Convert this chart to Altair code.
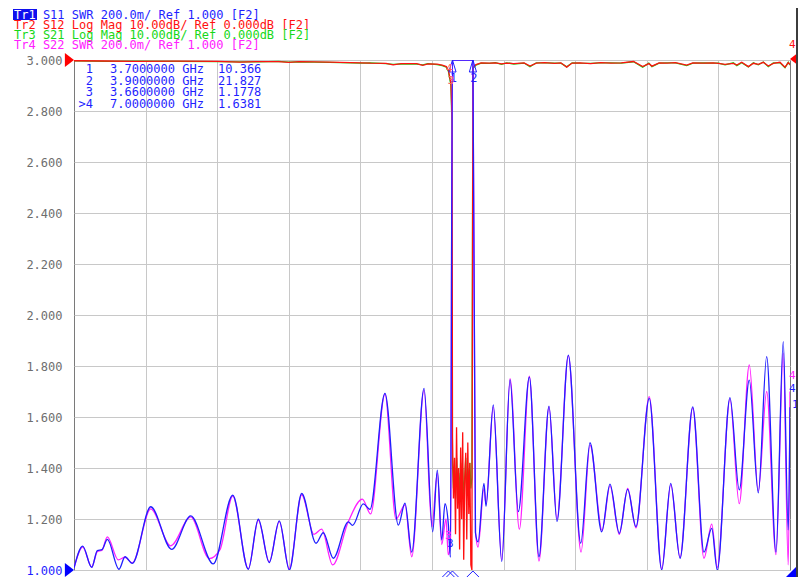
import altair as alt
import pandas as pd

MONO = "DejaVu Sans Mono"
BLUE = "#1f1fff"
RED = "#ff1010"
GREEN = "#18d818"
MAG = "#ff20ff"
GRID = "#c8c8c8"

# ---------------- data (frequency in GHz) ----------------
# Tr1 S11 SWR
s11 = [
    (0.000, 1.008), (0.085, 1.094), (0.173, 1.010), (0.228, 1.076), (0.274, 1.080),
    (0.326, 1.120), (0.440, 1.003), (0.499, 1.052), (0.570, 1.026), (0.750, 1.248),
    (0.955, 1.081), (1.141, 1.212), (1.362, 1.024), (1.552, 1.294), (1.704, 1.003),
    (1.802, 1.199), (1.909, 1.029), (2.007, 1.193), (2.105, 1.000), (2.226, 1.300),
    (2.366, 1.105), (2.437, 1.146), (2.535, 1.046), (2.682, 1.189), (2.724, 1.175),
    (2.828, 1.259), (2.894, 1.238), (3.040, 1.693), (3.171, 1.176), (3.236, 1.262),
    (3.302, 1.070), (3.422, 1.712), (3.507, 1.150), (3.552, 1.392), (3.595, 1.118),
    (3.627, 1.260), (3.660, 1.178), (3.680, 1.050), (3.700, 10.366), (3.750, 35.0),
    (3.800, 50.0), (3.850, 35.0), (3.900, 21.827), (3.925, 1.145), (3.950, 1.110),
    (4.008, 1.340), (4.028, 1.250), (4.099, 1.647), (4.182, 1.033), (4.263, 1.745),
    (4.344, 1.229), (4.452, 1.756), (4.546, 1.052), (4.644, 1.643), (4.722, 1.190),
    (4.833, 1.843), (4.954, 1.105), (5.045, 1.499), (5.159, 1.150), (5.240, 1.337),
    (5.331, 1.144), (5.413, 1.316), (5.494, 1.170), (5.624, 1.673), (5.746, 1.000),
    (5.834, 1.340), (5.925, 1.046), (6.049, 1.640), (6.159, 1.070), (6.235, 1.163),
    (6.289, 1.000), (6.413, 1.676), (6.504, 1.314), (6.602, 1.745), (6.690, 1.303),
    (6.772, 1.837), (6.863, 1.070), (6.934, 1.895), (6.983, 1.157), (7.000, 1.638),
]

# Tr4 S22 SWR
s22 = [
    (0.000, 1.008), (0.085, 1.090), (0.173, 1.012), (0.228, 1.072), (0.274, 1.078),
    (0.326, 1.130), (0.433, 1.040), (0.499, 1.050), (0.570, 1.028), (0.750, 1.240),
    (0.945, 1.095), (1.141, 1.208), (1.323, 1.045), (1.427, 1.080), (1.552, 1.290),
    (1.704, 1.005), (1.802, 1.195), (1.909, 1.032), (2.007, 1.190), (2.105, 1.005),
    (2.226, 1.295), (2.346, 1.140), (2.421, 1.160), (2.529, 1.020), (2.682, 1.190),
    (2.819, 1.278), (2.900, 1.220), (3.040, 1.690), (3.148, 1.200), (3.236, 1.255),
    (3.302, 1.052), (3.422, 1.705), (3.499, 1.170), (3.552, 1.380), (3.595, 1.100),
    (3.637, 1.200), (3.659, 1.060), (3.680, 1.100), (3.700, 8.5), (3.750, 30.0),
    (3.800, 40.0), (3.850, 30.0), (3.900, 18.0), (3.925, 1.150), (3.950, 1.090),
    (4.008, 1.320), (4.028, 1.260), (4.099, 1.640), (4.182, 1.040), (4.263, 1.750),
    (4.354, 1.160), (4.452, 1.760), (4.546, 1.035), (4.644, 1.640), (4.722, 1.200),
    (4.833, 1.840), (4.957, 1.070), (5.045, 1.490), (5.163, 1.155), (5.240, 1.330),
    (5.331, 1.140), (5.413, 1.320), (5.494, 1.165), (5.624, 1.680), (5.746, 1.005),
    (5.834, 1.335), (5.925, 1.050), (6.049, 1.635), (6.159, 1.046), (6.235, 1.180),
    (6.289, 1.010), (6.413, 1.670), (6.504, 1.260), (6.602, 1.804), (6.690, 1.310),
    (6.772, 1.700), (6.863, 1.060), (6.934, 1.850), (6.983, 1.020), (7.000, 1.700),
]

# Tr2 S12 Log Mag (dB)
s12_low = [
    (0.00, -0.15), (0.30, -0.20), (0.60, -0.25), (1.00, -0.22), (1.40, -0.28),
    (1.62, -0.40), (1.80, -0.30), (2.00, -0.30), (2.10, -0.45), (2.20, -0.32),
    (2.50, -0.40), (2.80, -0.55), (2.90, -0.62), (3.05, -0.65), (3.12, -0.95),
    (3.20, -0.70), (3.35, -0.70), (3.41, -1.05), (3.46, -0.75), (3.55, -0.80),
    (3.60, -1.00), (3.64, -1.30), (3.66, -2.00), (3.685, -4.5), (3.697, -12.0),
]
s12_stop_db = [
    -74, -86, -78, -93, -72, -88, -80, -96, -76, -90,
    -73, -98, -82, -77, -94, -75, -89, -79, -99, -112,
]
s12_high = [
    (3.900, -1.5), (3.930, -0.9), (3.980, -0.55), (4.060, -0.60), (4.120, -0.55),
    (4.180, -0.75), (4.230, -0.60), (4.300, -0.70), (4.400, -0.55), (4.458, -1.18),
    (4.520, -0.60), (4.600, -0.50), (4.700, -0.65), (4.760, -0.55), (4.817, -1.40),
    (4.870, -0.60), (4.950, -0.55), (5.050, -0.70), (5.150, -0.50), (5.250, -0.60),
    (5.350, -0.55), (5.470, -0.30), (5.560, -1.30), (5.620, -0.70), (5.650, -1.20),
    (5.720, -0.55), (5.800, -0.60), (5.880, -0.50), (5.990, -1.00), (6.050, -0.55),
    (6.150, -0.60), (6.250, -0.55), (6.300, -0.65), (6.365, -0.85), (6.446, -0.65),
    (6.480, -1.00), (6.528, -0.45), (6.593, -1.30), (6.642, -0.65), (6.690, -0.85),
    (6.739, -0.45), (6.788, -1.18), (6.837, -0.65), (6.902, -0.45), (6.951, -1.43),
    (6.983, -0.50), (7.000, -0.90),
]

# Tr3 S21 Log Mag (dB)
s21_low = [
    (0.00, -0.18), (0.30, -0.25), (0.60, -0.22), (1.00, -0.28), (1.40, -0.30),
    (1.62, -0.35), (1.80, -0.38), (2.00, -0.28), (2.10, -0.40), (2.20, -0.36),
    (2.50, -0.45), (2.80, -0.60), (2.90, -0.58), (3.05, -0.72), (3.12, -0.85),
    (3.20, -0.75), (3.35, -0.80), (3.41, -0.95), (3.46, -0.70), (3.55, -0.90),
    (3.60, -1.10), (3.64, -1.40), (3.66, -2.20), (3.685, -5.0), (3.697, -14.0),
]
s21_stop_db = [
    -79, -84, -80, -86, -78, -83, -81, -85, -79, -84,
    -80, -86, -82, -78, -85, -80, -83, -79, -84, -82,
]
s21_high = [
    (3.900, -1.7), (3.930, -1.0), (3.980, -0.60), (4.060, -0.68), (4.120, -0.50),
    (4.180, -0.85), (4.230, -0.55), (4.300, -0.78), (4.400, -0.60), (4.458, -1.30),
    (4.520, -0.55), (4.600, -0.58), (4.700, -0.60), (4.760, -0.62), (4.817, -1.35),
    (4.870, -0.55), (4.950, -0.62), (5.050, -0.65), (5.150, -0.58), (5.250, -0.55),
    (5.350, -0.62), (5.470, -0.35), (5.560, -1.40), (5.620, -0.62), (5.650, -1.30),
    (5.720, -0.60), (5.800, -0.55), (5.880, -0.58), (5.990, -1.10), (6.050, -0.60),
    (6.150, -0.55), (6.250, -0.62), (6.300, -0.60), (6.365, -0.95), (6.446, -0.55),
    (6.480, -1.10), (6.528, -0.55), (6.593, -1.35), (6.642, -0.55), (6.690, -0.95),
    (6.739, -0.40), (6.788, -1.30), (6.837, -0.55), (6.902, -0.55), (6.951, -1.50),
    (6.983, -0.45), (7.000, -1.00),
]

stop_start = 3.70
stop_step = 0.01

x_grid = [0.7, 1.4, 2.1, 2.8, 3.5, 4.2, 4.9, 5.6, 6.3]
y_ticks = [1.0, 1.2, 1.4, 1.6, 1.8, 2.0, 2.2, 2.4, 2.6, 2.8, 3.0]

marker_ids = ["1", "2", "3", ">4"]
marker_freq = [3.70, 3.90, 3.66, 7.00]
marker_freq_txt = ["3.7000000 GHz", "3.9000000 GHz", "3.6600000 GHz", "7.0000000 GHz"]
marker_val_txt = ["10.366", "21.827", "1.1778", "1.6381"]

header_lines = [
    ("Tr1 S11 SWR 200.0m/ Ref 1.000 [F2]", BLUE),
    ("Tr2 S12 Log Mag 10.00dB/ Ref 0.000dB [F2]", RED),
    ("Tr3 S21 Log Mag 10.00dB/ Ref 0.000dB [F2]", GREEN),
    ("Tr4 S22 SWR 200.0m/ Ref 1.000 [F2]", MAG),
]


def db_frame(low, stop, high):
    stop_pts = [(round(stop_start + stop_step * i, 3), d) for i, d in enumerate(stop)]
    return pd.DataFrame(low + stop_pts + high, columns=["f", "db"])


df11 = pd.DataFrame(s11, columns=["f", "v"])
df22 = pd.DataFrame(s22, columns=["f", "v"])
df12 = db_frame(s12_low, s12_stop_db, s12_high)
df21 = db_frame(s21_low, s21_stop_db, s21_high)

xs = alt.Scale(domain=[0, 7], nice=False, zero=False)
ys = alt.Scale(domain=[1, 3], nice=False, zero=False, clamp=True)
AXX = alt.Axis(values=x_grid, grid=True, gridColor=GRID, gridWidth=1, labels=False, ticks=False,
               domain=False, title=None)
AXY = alt.Axis(values=y_ticks, format=".3f", grid=True, gridColor=GRID, gridWidth=1, ticks=False,
               domain=False, labelPadding=12, labelFont=MONO, labelFontSize=12,
               labelColor={"expr": "datum.value === 1 ? '#1f1fff' : '#6e6e6e'"}, title=None)
X = alt.X("f:Q", scale=xs, axis=AXX)
Y = alt.Y("v:Q", scale=ys, axis=AXY)

one = pd.DataFrame({"k": [0]})


def trace(df, color, calc=None, interp="monotone"):
    ch = alt.Chart(df)
    if calc:
        ch = ch.transform_calculate(v=calc)
    return ch.mark_line(color=color, strokeWidth=1.3, interpolate=interp, clip=True).encode(x=X, y=Y)


def txt(s, x, y, color, size=12, align="left"):
    return alt.Chart(one).mark_text(text=s, font=MONO, fontSize=size, color=color, align=align,
                                    baseline="middle").encode(x=alt.value(x), y=alt.value(y))


def sym(path, x, y, size, color, filled=True):
    return alt.Chart(one).mark_point(shape=path, size=size, filled=filled, color=color, opacity=1,
                                     strokeWidth=1).encode(x=alt.value(x), y=alt.value(y))


layers = [trace(df21, GREEN, "3 + datum.db / 50", "linear"),
          trace(df12, RED, "3 + datum.db / 50", "linear"),
          trace(df22, MAG),
          trace(df11, BLUE)]

# header
hy = [-45.5, -35.2, -25, -14.8]
for (s, c), y in zip(header_lines, hy):
    layers.append(txt(s, -60, y, c))
layers.append(alt.Chart(one).mark_rect(color="#1010ee").encode(
    x=alt.value(-61), x2=alt.value(-37), y=alt.value(-51), y2=alt.value(-40)))
layers.append(txt("Tr1", -60, hy[0], "white"))

# marker table
ty = [9, 20.5, 32, 43.5]
for mid, ft, vt, y in zip(marker_ids, marker_freq_txt, marker_val_txt, ty):
    layers.append(txt(mid, 19, y, BLUE, align="right"))
    layers.append(txt(ft, 36, y, BLUE))
    layers.append(txt(vt, 144, y, BLUE))

# marker symbols on the traces (top edge, off-scale)
mk = pd.DataFrame({"f": marker_freq, "id": marker_ids})
tri_up_tall = "M0,-1L0.6,1L-0.6,1Z"
tri_up_wide = "M0,-0.5L1,0.5L-1,0.5Z"
layers.append(alt.Chart(mk).transform_filter("datum.id == '1' || datum.id == '2'").mark_point(
    shape=tri_up_tall, size=144, filled=False, color=BLUE, opacity=1, strokeWidth=1).encode(
    x=X, y=alt.value(6)))
layers.append(alt.Chart(mk).transform_filter("datum.id == '1' || datum.id == '2'").mark_text(
    font=MONO, fontSize=12, color=BLUE, baseline="middle", dx=1).encode(
    x=X, y=alt.value(18), text="id:N"))
# bottom stimulus markers
layers.append(alt.Chart(mk).transform_filter("datum.id != '>4'").mark_point(
    shape=tri_up_wide, size=256, filled=False, color=BLUE, opacity=1, strokeWidth=1).encode(
    x=X, y=alt.value(515)))

# red marker labels near stop band edge
layers.append(txt("4", 372, 9, "#ff6060", size=11))
layers.append(txt("3", 373.5, 21, "#ff6060", size=11))
# marker 3 labels near bottom
layers.append(txt("3", 371, 476, MAG, size=11))
layers.append(txt("3", 373, 484, BLUE, size=11))
# marker 4 labels at right edge
layers.append(txt("4", 715, -15, RED, size=11))
layers.append(txt("4", 715, 316, MAG, size=11))
layers.append(txt("4", 715, 329, BLUE, size=11))
layers.append(txt("1", 718, 345, BLUE, size=11))

# reference position triangles
layers.append(sym("M-0.6,-1L0.7,0L-0.6,1Z", -4.9, 0, 196, "#ff0000"))
layers.append(sym("M-0.6,-1L0.7,0L-0.6,1Z", -4.9, 510, 196, "#0000ff"))
layers.append(sym("M0.6,-1L-0.7,0L0.6,1Z", 720.9, -1, 196, "#ff0000"))
layers.append(sym("M1,-1L1,1L-1,1Z", 717.5, 511.5, 289, "#0000ff"))

# window frame (right edge)
layers.append(alt.Chart(one).mark_rule(color="#3c3c3c", strokeWidth=2).encode(
    x=alt.value(723), y=alt.value(-52), y2=alt.value(520)))

chart = alt.layer(*layers).properties(
    width=716, height=510,
    padding={"left": 66, "top": 52, "right": 8, "bottom": 7},
    autosize=alt.AutoSizeParams(type="none"),
    background="white",
).configure_view(stroke="#7a7a7a", strokeWidth=1)

chart.save("out.html", embed_options={"renderer": "svg", "actions": False})
